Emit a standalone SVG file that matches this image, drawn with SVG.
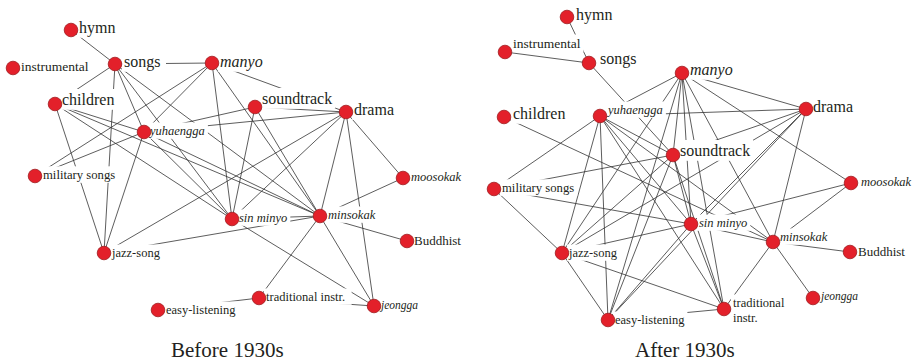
<svg xmlns="http://www.w3.org/2000/svg" width="913" height="364" viewBox="0 0 913 364">
<style>
.e line{stroke:#333;stroke-width:0.8;fill:none}
.n circle{fill:#e3202a;stroke:#9e1b1e;stroke-width:0.8}
.bg{fill:#fff}
text{font-family:"Liberation Serif","Times New Roman",serif;fill:#231f20}
.i{font-style:italic}
.cap{font-size:21px}
</style>
<rect width="913" height="364" fill="#fff"/>
<g id="edges" class="e">
<g id="edges-before">
<line x1="71" y1="30" x2="115" y2="64"/>
<line x1="115" y1="64" x2="212" y2="63"/>
<line x1="115" y1="64" x2="55" y2="104"/>
<line x1="115" y1="64" x2="104" y2="253"/>
<line x1="115" y1="64" x2="144" y2="132"/>
<line x1="115" y1="64" x2="232" y2="219"/>
<line x1="115" y1="64" x2="320" y2="216"/>
<line x1="212" y1="63" x2="144" y2="132"/>
<line x1="212" y1="63" x2="35" y2="176"/>
<line x1="212" y1="63" x2="232" y2="219"/>
<line x1="212" y1="63" x2="320" y2="216"/>
<line x1="212" y1="63" x2="346" y2="112"/>
<line x1="55" y1="104" x2="144" y2="132"/>
<line x1="55" y1="104" x2="104" y2="253"/>
<line x1="55" y1="104" x2="232" y2="219"/>
<line x1="55" y1="104" x2="320" y2="216"/>
<line x1="144" y1="132" x2="255" y2="107"/>
<line x1="144" y1="132" x2="346" y2="112"/>
<line x1="144" y1="132" x2="35" y2="176"/>
<line x1="144" y1="132" x2="104" y2="253"/>
<line x1="144" y1="132" x2="232" y2="219"/>
<line x1="144" y1="132" x2="320" y2="216"/>
<line x1="255" y1="107" x2="346" y2="112"/>
<line x1="255" y1="107" x2="232" y2="219"/>
<line x1="255" y1="107" x2="320" y2="216"/>
<line x1="346" y1="112" x2="232" y2="219"/>
<line x1="346" y1="112" x2="320" y2="216"/>
<line x1="346" y1="112" x2="374" y2="306"/>
<line x1="346" y1="112" x2="403" y2="178"/>
<line x1="346" y1="112" x2="104" y2="253"/>
<line x1="403" y1="178" x2="320" y2="216"/>
<line x1="232" y1="219" x2="320" y2="216"/>
<line x1="232" y1="219" x2="374" y2="306"/>
<line x1="104" y1="253" x2="320" y2="216"/>
<line x1="320" y1="216" x2="407" y2="241"/>
<line x1="320" y1="216" x2="259" y2="298"/>
<line x1="320" y1="216" x2="374" y2="306"/>
<line x1="259" y1="298" x2="374" y2="306"/>
<line x1="158" y1="310" x2="259" y2="298"/>
</g>
<g id="edges-after">
<line x1="567" y1="17" x2="589" y2="63"/>
<line x1="505" y1="52" x2="589" y2="63"/>
<line x1="589" y1="63" x2="673" y2="155"/>
<line x1="504" y1="117" x2="773" y2="242"/>
<line x1="494" y1="189" x2="600" y2="116"/>
<line x1="494" y1="189" x2="673" y2="155"/>
<line x1="494" y1="189" x2="691" y2="224"/>
<line x1="494" y1="189" x2="562" y2="253"/>
<line x1="600" y1="116" x2="682" y2="73"/>
<line x1="600" y1="116" x2="673" y2="155"/>
<line x1="600" y1="116" x2="806" y2="109"/>
<line x1="600" y1="116" x2="562" y2="253"/>
<line x1="600" y1="116" x2="608" y2="320"/>
<line x1="600" y1="116" x2="691" y2="224"/>
<line x1="600" y1="116" x2="773" y2="242"/>
<line x1="600" y1="116" x2="724" y2="309"/>
<line x1="682" y1="73" x2="673" y2="155"/>
<line x1="682" y1="73" x2="691" y2="224"/>
<line x1="682" y1="73" x2="773" y2="242"/>
<line x1="682" y1="73" x2="724" y2="309"/>
<line x1="682" y1="73" x2="562" y2="253"/>
<line x1="682" y1="73" x2="608" y2="320"/>
<line x1="682" y1="73" x2="806" y2="109"/>
<line x1="682" y1="73" x2="851" y2="183"/>
<line x1="806" y1="109" x2="673" y2="155"/>
<line x1="806" y1="109" x2="562" y2="253"/>
<line x1="806" y1="109" x2="691" y2="224"/>
<line x1="806" y1="109" x2="773" y2="242"/>
<line x1="806" y1="109" x2="608" y2="320"/>
<line x1="673" y1="155" x2="562" y2="253"/>
<line x1="673" y1="155" x2="608" y2="320"/>
<line x1="673" y1="155" x2="691" y2="224"/>
<line x1="673" y1="155" x2="724" y2="309"/>
<line x1="691" y1="224" x2="773" y2="242"/>
<line x1="691" y1="224" x2="851" y2="183"/>
<line x1="691" y1="224" x2="562" y2="253"/>
<line x1="691" y1="224" x2="724" y2="309"/>
<line x1="691" y1="224" x2="608" y2="320"/>
<line x1="773" y1="242" x2="851" y2="183"/>
<line x1="773" y1="242" x2="850" y2="252"/>
<line x1="773" y1="242" x2="813" y2="298"/>
<line x1="773" y1="242" x2="724" y2="309"/>
<line x1="562" y1="253" x2="724" y2="309"/>
<line x1="562" y1="253" x2="608" y2="320"/>
<line x1="608" y1="320" x2="724" y2="309"/>
</g>
</g>
<g id="nodes-before" class="n">
<g id="b-hymn"><rect class="bg" x="77" y="17" width="41.4" height="20.8"/><text x="79" y="33" font-size="16">hymn</text><circle cx="71" cy="30" r="6.8"/></g>
<g id="b-instrumental"><rect class="bg" x="19" y="57.5" width="72.5" height="17.6"/><text x="21" y="71" font-size="13.5">instrumental</text><circle cx="13" cy="68" r="6.8"/></g>
<g id="b-songs"><rect class="bg" x="122" y="51" width="44" height="20.8"/><text x="124" y="67" font-size="16">songs</text><circle cx="115" cy="64" r="6.8"/></g>
<g id="b-manyo"><rect class="bg" x="218" y="51" width="47.7" height="20.8"/><text class="i" x="220" y="67" font-size="16">manyo</text><circle cx="212" cy="63" r="6.8"/></g>
<g id="b-children"><rect class="bg" x="60" y="89" width="57.4" height="20.8"/><text x="62" y="105" font-size="16">children</text><circle cx="55" cy="104" r="6.8"/></g>
<g id="b-soundtrack"><rect class="bg" x="260" y="88" width="75.2" height="20.8"/><text x="262" y="104" font-size="16">soundtrack</text><circle cx="255" cy="107" r="6.8"/></g>
<g id="b-drama"><rect class="bg" x="352" y="99" width="45" height="20.8"/><text x="354" y="115" font-size="16">drama</text><circle cx="346" cy="112" r="6.8"/></g>
<g id="b-yuhaengga"><rect class="bg" x="148" y="122.5" width="59.9" height="16.3"/><text class="i" x="150" y="135" font-size="12.5">yuhaengga</text><circle cx="144" cy="132" r="6.8"/></g>
<g id="b-military-songs"><rect class="bg" x="41" y="166.3" width="77.3" height="16.5"/><text x="43" y="179" font-size="12.7">military songs</text><circle cx="35" cy="176" r="6.8"/></g>
<g id="b-moosokak"><rect class="bg" x="409" y="168.5" width="55" height="16.3"/><text class="i" x="411" y="181" font-size="12.5">moosokak</text><circle cx="403" cy="178" r="6.8"/></g>
<g id="b-sin-minyo"><rect class="bg" x="237" y="209.5" width="53.3" height="16.3"/><text class="i" x="239" y="222" font-size="12.5">sin minyo</text><circle cx="232" cy="219" r="6.8"/></g>
<g id="b-minsokak"><rect class="bg" x="326" y="206.5" width="52.2" height="16.3"/><text class="i" x="328" y="219" font-size="12.5">minsokak</text><circle cx="320" cy="216" r="6.8"/></g>
<g id="b-buddhist"><rect class="bg" x="412" y="232" width="52" height="16.9"/><text x="414" y="245" font-size="13">Buddhist</text><circle cx="407" cy="241" r="6.8"/></g>
<g id="b-jazz-song"><rect class="bg" x="110" y="244.5" width="52.9" height="16.3"/><text x="112" y="257" font-size="12.5">jazz-song</text><circle cx="104" cy="253" r="6.8"/></g>
<g id="b-easy-listening"><rect class="bg" x="164" y="301.5" width="74.4" height="16.3"/><text x="166" y="314" font-size="12.5">easy-listening</text><circle cx="158" cy="310" r="6.8"/></g>
<g id="b-traditional-instr"><rect class="bg" x="264" y="288.5" width="87.6" height="16.3"/><text x="266" y="301" font-size="12.5">traditional instr.</text><circle cx="259" cy="298" r="6.8"/></g>
<g id="b-jeongga"><rect class="bg" x="379" y="297.5" width="42" height="15"/><text class="i" x="381" y="309" font-size="11.5">jeongga</text><circle cx="374" cy="306" r="6.8"/></g>
</g>
<g id="nodes-after" class="n">
<g id="a-hymn"><rect class="bg" x="574" y="4" width="41.4" height="20.8"/><text x="576" y="20" font-size="16">hymn</text><circle cx="567" cy="17" r="6.8"/></g>
<g id="a-instrumental"><rect class="bg" x="511" y="34.5" width="72.5" height="17.6"/><text x="513" y="48" font-size="13.5">instrumental</text><circle cx="505" cy="52" r="6.8"/></g>
<g id="a-songs"><rect class="bg" x="598" y="48" width="41.4" height="20.8"/><text x="600" y="64" font-size="16">songs</text><circle cx="589" cy="63" r="6.8"/></g>
<g id="a-manyo"><rect class="bg" x="688" y="59" width="47.7" height="20.8"/><text class="i" x="690" y="75" font-size="16">manyo</text><circle cx="682" cy="73" r="6.8"/></g>
<g id="a-children"><rect class="bg" x="511" y="103" width="57.4" height="20.8"/><text x="513" y="119" font-size="16">children</text><circle cx="504" cy="117" r="6.8"/></g>
<g id="a-yuhaengga"><rect class="bg" x="606" y="101.5" width="59.9" height="16.3"/><text class="i" x="608" y="114" font-size="12.5">yuhaengga</text><circle cx="600" cy="116" r="6.8"/></g>
<g id="a-drama"><rect class="bg" x="811" y="96" width="45" height="20.8"/><text x="813" y="112" font-size="16">drama</text><circle cx="806" cy="109" r="6.8"/></g>
<g id="a-soundtrack"><rect class="bg" x="678" y="140" width="75.2" height="20.8"/><text x="680" y="156" font-size="16">soundtrack</text><circle cx="673" cy="155" r="6.8"/></g>
<g id="a-moosokak"><rect class="bg" x="859" y="173.5" width="54" height="16.3"/><text class="i" x="861" y="186" font-size="12.5">moosokak</text><circle cx="851" cy="183" r="6.8"/></g>
<g id="a-military-songs"><rect class="bg" x="500" y="179.3" width="77.3" height="16.5"/><text x="502" y="192" font-size="12.7">military songs</text><circle cx="494" cy="189" r="6.8"/></g>
<g id="a-sin-minyo"><rect class="bg" x="697" y="214.5" width="53.3" height="16.3"/><text class="i" x="699" y="227" font-size="12.5">sin minyo</text><circle cx="691" cy="224" r="6.8"/></g>
<g id="a-minsokak"><rect class="bg" x="778" y="228.5" width="52.2" height="16.3"/><text class="i" x="780" y="241" font-size="12.5">minsokak</text><circle cx="773" cy="242" r="6.8"/></g>
<g id="a-buddhist"><rect class="bg" x="856" y="243" width="52" height="16.9"/><text x="858" y="256" font-size="13">Buddhist</text><circle cx="850" cy="252" r="6.8"/></g>
<g id="a-jazz-song"><rect class="bg" x="567" y="244.5" width="52.9" height="16.3"/><text x="569" y="257" font-size="12.5">jazz-song</text><circle cx="562" cy="253" r="6.8"/></g>
<g id="a-jeongga"><rect class="bg" x="819" y="288.5" width="42" height="15"/><text class="i" x="821" y="300" font-size="11.5">jeongga</text><circle cx="813" cy="298" r="6.8"/></g>
<g id="a-traditional-instr"><rect class="bg" x="731" y="294.5" width="59" height="31"/><text x="733" y="307" font-size="12.5">traditional</text><text x="733" y="321.5" font-size="12.5">instr.</text><circle cx="724" cy="309" r="6.8"/></g>
<g id="a-easy-listening"><rect class="bg" x="613" y="311.5" width="74.4" height="16.3"/><text x="615" y="324" font-size="12.5">easy-listening</text><circle cx="608" cy="320" r="6.8"/></g>
</g>
<g id="captions">
<text class="cap" x="171" y="357">Before 1930s</text>
<text class="cap" x="635" y="357">After 1930s</text>
</g>
</svg>
